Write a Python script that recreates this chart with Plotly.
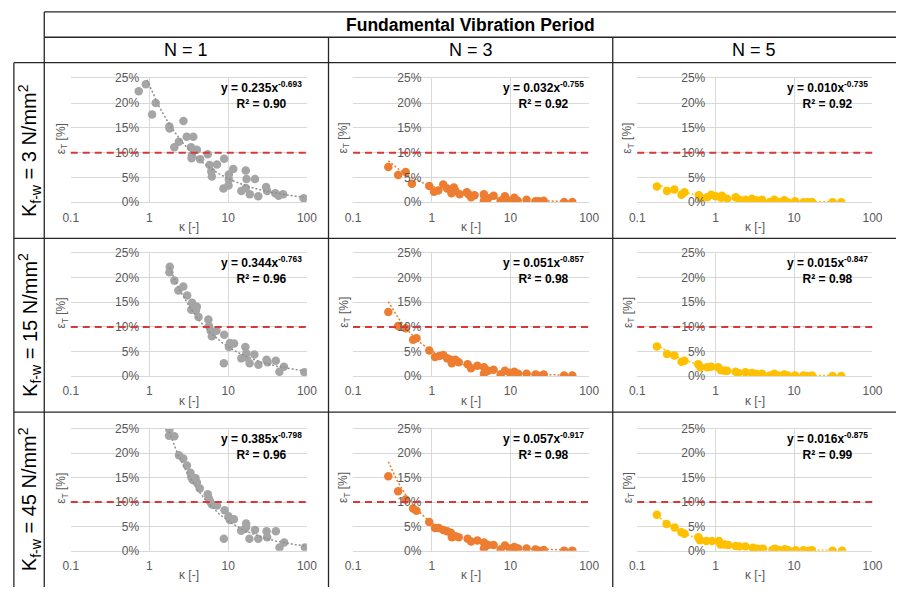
import numpy as np
import plotly.graph_objects as go

W, H = 906, 594

title_text = "Fundamental Vibration Period"
col_labels = ["N = 1", "N = 3", "N = 5"]
row_labels = ["K<sub>f-w</sub> = 3 N/mm<sup>2</sup>",
              "K<sub>f-w</sub> = 15 N/mm<sup>2</sup>",
              "K<sub>f-w</sub> = 45 N/mm<sup>2</sup>"]
x_tickvals = [0.1, 1, 10, 100]
x_ticktext = ["0.1", "1", "10", "100"]
y_tickvals = [0, 0.05, 0.10, 0.15, 0.20, 0.25]
threshold = 0.10

# ---------- data: kappa [-] and eps_T [%] per panel ----------
# Row 1 (K = 3)
k_r1_n1 = [0.73, 0.90, 1.2, 1.08, 1.79, 1.8, 2.7, 2.36, 2.07, 2.97, 3.6, 3.37, 4.0, 3.46, 3.43,
           4.4, 5.5, 5.8, 6.1, 6.2, 7.2, 8.9, 8.7, 10.1, 10.2, 10.2, 11.6, 14.7, 16.7, 17.1,
           16.7, 18.8, 21.9, 24.1, 30.3, 31.2, 39.6, 43.6, 49.8, 90.8]
e_r1_n1 = [22.4, 23.8, 20.0, 17.7, 15.3, 14.9, 16.4, 12.2, 11.1, 13.2, 13.2, 11.1, 10.6, 9.5, 8.9,
           8.7, 9.7, 7.5, 6.2, 5.2, 7.6, 8.8, 2.8, 3.4, 4.6, 5.6, 6.7, 2.3, 6.4, 4.7,
           2.9, 1.6, 4.7, 1.2, 3.1, 2.3, 1.8, 1.3, 1.6, 0.8]
k_r1_n3 = [0.281, 0.374, 0.467, 0.56, 0.93, 1.07, 1.21, 1.40, 1.57, 1.78, 1.91, 2.0, 2.26, 2.79,
           2.93, 3.16, 3.5, 4.6, 4.6, 5.2, 6.1, 7.5, 8.5, 8.8, 10.0, 11.2, 12.3, 16.0, 20.8,
           23.0, 26.4, 48.0, 61.0]
e_r1_n3 = [7.1, 5.5, 6.1, 3.75, 3.3, 2.1, 2.4, 3.6, 2.8, 1.8, 3.0, 2.3, 1.6, 2.0,
           1.6, 1.0, 1.4, 1.6, 0.3, 0.8, 1.3, 0.3, 1.2, 0.7, 0.26, 0.9, 0.3, 0.5, 0.2,
           0.2, 0.3, 0.07, 0.07]
k_r1_n5 = [0.178, 0.24, 0.297, 0.367, 0.40, 0.61, 0.64, 0.78, 0.88, 1.0, 1.17, 1.2, 1.4, 1.8,
           2.0, 2.4, 2.9, 3.0, 3.3, 3.9, 4.9, 5.6, 6.3, 7.5, 8.3, 10.3, 13.2, 14.9, 16.9,
           31.0, 40.0]
e_r1_n5 = [3.2, 2.3, 2.6, 1.5, 2.0, 1.4, 0.9, 1.0, 1.5, 1.2, 0.9, 1.3, 0.7, 1.0,
           0.5, 0.5, 0.7, 0.2, 0.4, 0.5, 0.07, 0.5, 0.07, 0.4, 0.03, 0.2, 0.03, 0.03, 0.07,
           0.03, 0.03]

# Row 2 (K = 15)
k_r2_n1 = [1.81, 1.79, 2.07, 2.33, 2.69, 3.01, 3.48, 3.58, 3.4, 3.9, 4.0, 4.2, 5.6, 5.7, 6.0,
           6.2, 7.1, 8.9, 8.8, 10.2, 10.5, 11.9, 14.7, 16.5, 17.0, 16.5, 18.7, 21.5, 24.2,
           30.7, 31.6, 40.2, 44.7, 51.0, 92.6]
e_r2_n1 = [22.2, 21.1, 19.4, 17.4, 18.2, 16.4, 14.9, 14.3, 13.5, 13.4, 14.1, 12.0, 11.5, 10.2, 9.2,
           8.1, 9.2, 8.4, 2.6, 5.9, 6.7, 6.6, 3.6, 5.9, 4.6, 3.9, 2.6, 4.4, 2.3,
           3.3, 2.8, 3.1, 0.9, 1.9, 0.8]
k_r2_n3 = [0.281, 0.374, 0.467, 0.58, 0.64, 0.93, 1.1, 1.25, 1.40, 1.57, 1.75, 1.8, 2.0, 2.2,
           2.86, 3.16, 3.8, 4.6, 4.6, 5.2, 6.1, 7.5, 8.5, 9.8, 11.2, 12.5, 16.0, 20.8, 23.0,
           26.4, 48.0, 61.0]
e_r2_n3 = [13.0, 10.2, 9.7, 7.4, 7.7, 5.2, 3.9, 4.1, 4.3, 3.6, 3.3, 2.6, 3.3, 2.8,
           2.4, 1.6, 2.1, 1.8, 0.5, 1.1, 1.3, 0.3, 1.1, 0.7, 0.9, 0.5, 0.5, 0.3, 0.07,
           0.3, 0.13, 0.13]
k_r2_n5 = [0.178, 0.24, 0.297, 0.367, 0.40, 0.6, 0.64, 0.78, 0.88, 1.08, 1.17, 1.3, 1.4, 1.8,
           1.95, 2.4, 2.9, 3.0, 3.3, 3.9, 4.9, 5.6, 6.3, 7.5, 8.3, 10.3, 13.2, 14.9, 16.9,
           31.0, 40.0]
e_r2_n5 = [6.0, 4.5, 4.2, 2.9, 3.1, 2.4, 1.8, 1.8, 1.9, 1.8, 1.2, 1.1, 1.1, 0.9,
           0.65, 0.8, 0.65, 0.26, 0.46, 0.46, 0.13, 0.46, 0.13, 0.33, 0.13, 0.13, 0.13, 0.03, 0.13,
           0.03, 0.03]

# Row 3 (K = 45)
k_r3_n1 = [1.79, 1.77, 2.07, 2.37, 2.69, 2.99, 3.32, 3.4, 3.55, 3.84, 4.0, 4.35, 5.5, 5.65, 5.9,
           6.2, 7.2, 9.0, 8.8, 10.1, 10.5, 11.8, 14.6, 16.9, 16.9, 16.4, 18.6, 21.9, 24.1,
           30.7, 31.2, 40.3, 44.8, 51.3, 94.4]
e_r3_n1 = [24.8, 23.6, 23.5, 19.6, 18.9, 17.5, 16.0, 15.1, 14.5, 14.9, 14.0, 12.8, 11.6, 10.8, 10.1,
           9.5, 9.3, 8.3, 2.5, 7.1, 6.3, 6.5, 4.1, 5.6, 4.9, 4.5, 2.5, 4.3, 2.5,
           4.0, 2.8, 4.0, 0.7, 1.7, 0.7]
k_r3_n3 = [0.281, 0.374, 0.467, 0.58, 0.64, 0.93, 1.1, 1.23, 1.40, 1.57, 1.75, 1.8, 2.0, 2.2,
           2.86, 3.16, 3.8, 4.6, 4.6, 5.2, 6.1, 7.5, 8.5, 9.8, 11.2, 12.5, 16.0, 20.8, 23.0,
           26.4, 48.0, 61.0]
e_r3_n3 = [15.3, 12.2, 10.5, 8.7, 8.2, 5.9, 4.7, 4.7, 4.3, 4.0, 3.7, 2.8, 3.0, 2.8,
           2.5, 1.9, 2.1, 1.7, 0.5, 1.2, 1.2, 0.3, 1.1, 0.5, 0.8, 0.5, 0.5, 0.3, 0.05,
           0.2, 0.05, 0.05]
k_r3_n5 = [0.178, 0.237, 0.30, 0.365, 0.40, 0.6, 0.63, 0.76, 0.9, 1.1, 1.15, 1.3, 1.45, 1.8,
           2.0, 2.4, 3.0, 3.05, 3.4, 4.0, 5.3, 5.7, 6.4, 7.6, 8.4, 10.5, 13.2, 15.4, 16.9,
           31.0, 41.0]
e_r3_n5 = [7.4, 5.5, 4.8, 3.8, 3.5, 2.8, 2.2, 2.0, 2.0, 2.0, 1.3, 1.3, 1.2, 1.0,
           0.9, 0.9, 0.66, 0.33, 0.46, 0.46, 0.2, 0.46, 0.2, 0.33, 0.13, 0.13, 0.13, 0.03, 0.13,
           0.03, 0.03]

# power-law trendline coefficients y = a * x^b (as printed on the chart)
coef_a = [[0.235, 0.032, 0.010], [0.344, 0.051, 0.015], [0.385, 0.057, 0.016]]
coef_b = [[-0.693, -0.755, -0.735], [-0.763, -0.857, -0.847], [-0.798, -0.917, -0.875]]
r2_text = [["0.90", "0.92", "0.92"], ["0.96", "0.98", "0.98"], ["0.96", "0.98", "0.99"]]

series_colors = ["#a5a5a5", "#ed7d31", "#ffc000"]
trend_colors = ["#8f8f8f", "#ed7d31", "#ffc000"]

K = [[k_r1_n1, k_r1_n3, k_r1_n5], [k_r2_n1, k_r2_n3, k_r2_n5], [k_r3_n1, k_r3_n3, k_r3_n5]]
E = [[e_r1_n1, e_r1_n3, e_r1_n5], [e_r2_n1, e_r2_n3, e_r2_n5], [e_r3_n1, e_r3_n3, e_r3_n5]]

# ---------- geometry (pixels) ----------
row_top = [73, 252, 432]
row_bot = [200, 378, 557]
col_left = [64, 352, 642]
col_right = [305, 593, 882]

def px(x):
    return x / W

def py(y):
    return 1 - y / H

FONT = "Liberation Sans, Arial, sans-serif"
TICK_COLOR = "#595959"
GRID = "#d9d9d9"

fig = go.Figure()
layout = dict(
    width=W, height=H, margin=dict(l=0, r=0, t=0, b=0),
    paper_bgcolor="white", plot_bgcolor="white", showlegend=False,
    font=dict(family=FONT, color="#000000"),
)
annotations = []
shapes = []

for r in range(3):
    for c in range(3):
        i = r * 3 + c + 1
        xa = "xaxis" if i == 1 else f"xaxis{i}"
        ya = "yaxis" if i == 1 else f"yaxis{i}"
        xr = "x" if i == 1 else f"x{i}"
        yr = "y" if i == 1 else f"y{i}"
        dx0, dx1 = px(col_left[c]), px(col_right[c])
        dy0, dy1 = py(row_bot[r]), py(row_top[r])
        layout[xa] = dict(
            domain=[dx0, dx1], anchor=yr, type="log", range=[-1, 2],
            tickvals=x_tickvals, ticktext=x_ticktext,
            showgrid=True, gridcolor=GRID, gridwidth=1,
            showline=True, mirror=True, linecolor=GRID, linewidth=1,
            ticks="outside", ticklen=4, tickcolor="rgba(0,0,0,0)",
            tickfont=dict(size=12, color=TICK_COLOR, family=FONT), zeroline=False,
        )
        layout[ya] = dict(
            domain=[dy0, dy1], anchor="free", position=dx0 + (dx1 - dx0) / 3.0,
            range=[0, 0.25], tickvals=y_tickvals, tickformat=".0%",
            showgrid=True, gridcolor=GRID, gridwidth=1, showline=False, zeroline=False,
            ticks="outside", ticklen=8, tickcolor="rgba(0,0,0,0)",
            tickfont=dict(size=12, color=TICK_COLOR, family=FONT),
        )
        kx = np.array(K[r][c], dtype=float)
        ey = np.array(E[r][c], dtype=float) / 100.0
        fig.add_trace(go.Scatter(
            x=kx, y=ey, mode="markers", xaxis=xr, yaxis=yr,
            marker=dict(size=8.5, color=series_colors[c], line=dict(width=0)),
            hoverinfo="skip", cliponaxis=True,
        ))
        # power-law trendline from printed coefficients, spanning the data range
        xt = np.logspace(np.log10(kx.min()), np.log10(kx.max()), 120)
        yt = coef_a[r][c] * xt ** coef_b[r][c]
        fig.add_trace(go.Scatter(
            x=xt, y=yt, mode="lines", xaxis=xr, yaxis=yr,
            line=dict(color=trend_colors[c], width=1.5, dash="2px,2px"),
            hoverinfo="skip",
        ))
        # 10 % threshold line
        shapes.append(dict(
            type="line", xref=f"{xr} domain", yref=yr, x0=0, x1=1,
            y0=threshold, y1=threshold, layer="above",
            line=dict(color="#d43a3a", width=2, dash="7px,5px"),
        ))
        # equation & R^2
        a_s = f"{coef_a[r][c]:.3f}"
        b_s = f"{coef_b[r][c]:.3f}"
        annotations.append(dict(
            xref="paper", yref="paper", x=px(col_right[c] - 3), y=py(row_top[r] - 1),
            xanchor="right", yanchor="top", align="center", showarrow=False,
            text=f"<b>y = {a_s}x<sup>{b_s}</sup></b><br><b>R² = {r2_text[r][c]}</b>",
            font=dict(size=12, color="#000000", family=FONT),
        ))
        # axis titles
        annotations.append(dict(
            xref="paper", yref="paper", x=px((col_left[c] + col_right[c]) / 2),
            y=py(row_bot[r] + 25), xanchor="center", yanchor="middle", showarrow=False,
            text="κ [-]", font=dict(size=12, color=TICK_COLOR, family=FONT),
        ))
        annotations.append(dict(
            xref="paper", yref="paper", x=px(col_left[c] - 9),
            y=py((row_top[r] + row_bot[r]) / 2 - 2), xanchor="center", yanchor="middle",
            showarrow=False, textangle=-90,
            text="ε<sub>T</sub> [%]", font=dict(size=12, color=TICK_COLOR, family=FONT),
        ))

# ---------- table frame ----------
LINE = dict(color="#262626", width=1.3)
for yy, x0 in [(5, 37), (31, 37), (57, 6), (237, 6), (415, 6)]:
    shapes.append(dict(type="line", xref="paper", yref="paper", x0=px(x0), x1=1,
                       y0=py(yy), y1=py(yy), line=LINE, layer="below"))
for xx, y0 in [(6, 57), (37, 5), (327, 31), (617, 31)]:
    shapes.append(dict(type="line", xref="paper", yref="paper", x0=px(xx), x1=px(xx),
                       y0=py(y0), y1=0, line=LINE, layer="below"))

# header texts
annotations.append(dict(
    xref="paper", yref="paper", x=px((37 + 906) / 2), y=py(18.5), xanchor="center",
    yanchor="middle", showarrow=False, text=f"<b>{title_text}</b>",
    font=dict(size=17.5, color="#000000", family=FONT),
))
col_centers = [(37 + 327) / 2, (327 + 617) / 2, (617 + 906) / 2]
for c in range(3):
    annotations.append(dict(
        xref="paper", yref="paper", x=px(col_centers[c]), y=py(44), xanchor="center",
        yanchor="middle", showarrow=False, text=col_labels[c],
        font=dict(size=18, color="#000000", family=FONT),
    ))
row_centers = [(57 + 237) / 2, (237 + 415) / 2, (415 + 594) / 2]
for r in range(3):
    annotations.append(dict(
        xref="paper", yref="paper", x=px(22), y=py(row_centers[r]), xanchor="center",
        yanchor="middle", showarrow=False, textangle=-90, text=row_labels[r],
        font=dict(size=20, color="#000000", family=FONT),
    ))

layout["annotations"] = annotations
layout["shapes"] = shapes
fig.update_layout(**layout)
fig.write_html("out.html")
